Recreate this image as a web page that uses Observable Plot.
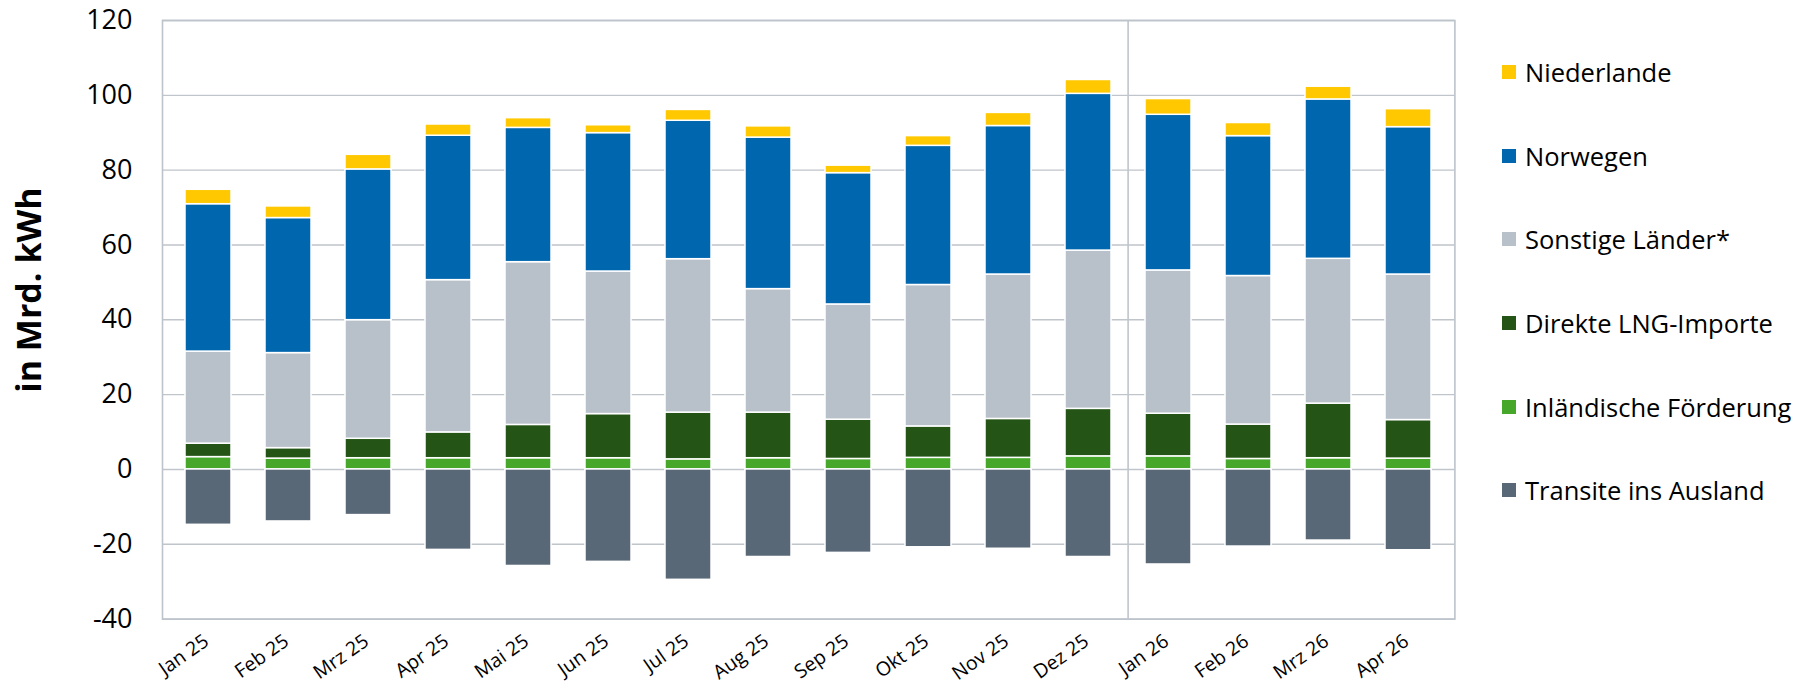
<!DOCTYPE html>
<html>
<head>
<meta charset="utf-8">
<script src="https://cdn.jsdelivr.net/npm/d3@7"></script>
<script src="https://cdn.jsdelivr.net/npm/@observablehq/plot@0.6"></script>
<style>
  html, body { margin: 0; padding: 0; background: #fff; }
  body { position: relative; width: 1793px; height: 685px; overflow: hidden; font-family: "Open Sans", sans-serif; }
  #ytitle { position: absolute; left: 27.5px; top: 290px; transform: translate(-50%, -50%) rotate(-90deg); font-weight: bold; font-size: 34px; white-space: nowrap; color: #000; }
  #legend { position: absolute; left: 1502px; top: 0; }
  .item { position: absolute; left: 0; display: flex; align-items: center; white-space: nowrap; font-size: 25.5px; color: #000; transform: translateY(-50%); }
  .sw { width: 14px; height: 14px; margin-right: 9px; flex: none; }
</style>
</head>
<body>
<div id="chart"></div>
<div id="ytitle">in Mrd. kWh</div>
<div id="legend"></div>
<script>
// Months (categories)
const months = ["Jan 25","Feb 25","Mrz 25","Apr 25","Mai 25","Jun 25","Jul 25","Aug 25","Sep 25","Okt 25","Nov 25","Dez 25","Jan 26","Feb 26","Mrz 26","Apr 26"];

// Series values (Mrd. kWh)
const inlaendisch = [3.3, 2.9, 3.0, 3.0, 3.0, 3.0, 2.7, 3.0, 2.8, 3.1, 3.1, 3.5, 3.5, 2.8, 3.0, 2.9];
const lng         = [3.6, 2.8, 5.2, 6.9, 8.9, 11.8, 12.5, 12.2, 10.5, 8.4, 10.4, 12.7, 11.4, 9.2, 14.6, 10.3];
const sonstige    = [24.6, 25.4, 31.7, 40.7, 43.5, 38.1, 41.0, 33.0, 30.8, 37.8, 38.6, 42.3, 38.3, 39.7, 38.7, 38.9];
const norwegen    = [39.4, 36.1, 40.3, 38.6, 35.9, 37.0, 37.0, 40.5, 35.1, 37.2, 39.7, 41.9, 41.6, 37.4, 42.6, 39.4];
const niederlande = [3.85, 3.1, 3.9, 3.0, 2.6, 2.1, 2.9, 3.0, 2.0, 2.6, 3.5, 3.7, 4.2, 3.5, 3.4, 4.8];
const transite    = [-14.8, -13.9, -12.2, -21.5, -25.8, -24.7, -29.5, -23.4, -22.3, -20.8, -21.2, -23.4, -25.4, -20.6, -19.0, -21.6];

// Series names and colours
const seriesNames  = ["Inländische Förderung", "Direkte LNG-Importe", "Sonstige Länder*", "Norwegen", "Niederlande", "Transite ins Ausland"];
const seriesColors = ["#46A72B", "#245516", "#B8C1C9", "#0067AF", "#FFC800", "#596877"];
const legendOrder  = ["Niederlande", "Norwegen", "Sonstige Länder*", "Direkte LNG-Importe", "Inländische Förderung", "Transite ins Ausland"];

// Axis ticks
const yTicks = [-40, -20, 0, 20, 40, 60, 80, 100, 120];
const separatorMonth = ["Jan 26"];

const seriesValues = [inlaendisch, lng, sonstige, norwegen, niederlande, transite];
const rows = [];
seriesNames.forEach((s, si) => {
  months.forEach((m, mi) => rows.push({month: m, series: s, value: seriesValues[si][mi]}));
});

const W = 1793, H = 685;
const mL = 162, mR = 338.6, mT = 20, mB = 66.4;
const step = (W - mL - mR) / months.length;

const chart = Plot.plot({
  width: W,
  height: H,
  marginLeft: mL,
  marginRight: mR,
  marginTop: mT,
  marginBottom: mB,
  style: {fontFamily: "'Open Sans', sans-serif", color: "#000", background: "#fff", overflow: "visible"},
  x: {domain: months, paddingInner: 0.42, paddingOuter: 0.21, label: null},
  y: {domain: [-40, 120], label: null},
  color: {domain: seriesNames, range: seriesColors},
  marks: [
    Plot.ruleY(yTicks, {stroke: "#BFC5CB", strokeWidth: 1.4}),
    Plot.ruleX(separatorMonth, {x: d => d, dx: -step / 2, stroke: "#BFC5CB", strokeWidth: 1.6}),
    Plot.frame({stroke: "#BCC3CA", strokeWidth: 1.6}),
    Plot.barY(rows, {x: "month", y: "value", fill: "series", order: seriesNames, stroke: "#fff", strokeWidth: 1.5}),
    Plot.axisY({ticks: yTicks, tickFormat: d => String(d), tickSize: 0, tickPadding: 30, fontSize: 27, label: null, fill: "#000"}),
    Plot.axisX({tickSize: 0, tickPadding: 20, tickRotate: -35, fontSize: 19.5, label: null, fill: "#000", dx: -2})
  ]
});
document.getElementById("chart").appendChild(chart);

// Legend
const legendY = [72, 155.5, 239, 323, 407, 489.5];
const colorOf = Object.fromEntries(seriesNames.map((s, i) => [s, seriesColors[i]]));
const leg = document.getElementById("legend");
legendOrder.forEach((s, i) => {
  const it = document.createElement("div");
  it.className = "item";
  it.style.top = legendY[i] + "px";
  const sw = document.createElement("span");
  sw.className = "sw";
  sw.style.background = colorOf[s];
  const tx = document.createElement("span");
  tx.textContent = s;
  it.appendChild(sw);
  it.appendChild(tx);
  leg.appendChild(it);
});
</script>
</body>
</html>
